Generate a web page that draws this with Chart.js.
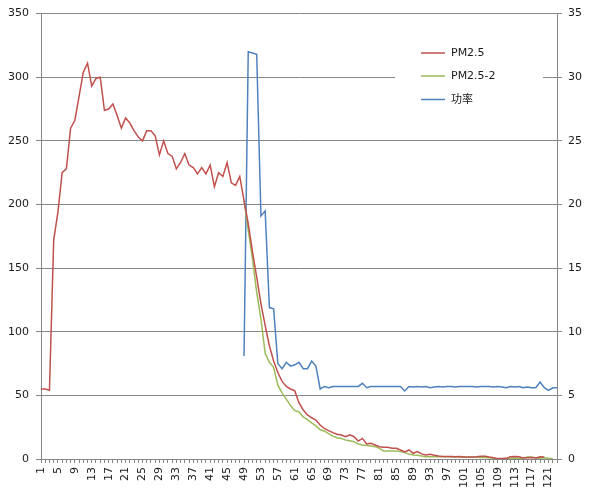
<!DOCTYPE html>
<html>
<head>
<meta charset="utf-8">
<script src="https://cdn.jsdelivr.net/npm/chart.js@4/dist/chart.umd.min.js"></script>
<style>
    html, body { margin: 0; padding: 0; background: #fff; }
    canvas { display: block; }
</style>
</head>
<body>
<canvas id="chart" width="600" height="494"></canvas>
<script>
// 时间序号 1..123
const labels = Array.from({ length: 123 }, (_, i) => String(i + 1));

const pm25 = [
    55, 55, 54, 172, 194, 225, 228, 260, 266, 285,
    304, 311, 293, 299, 300, 274, 275, 279, 270, 260,
    268, 264, 258, 253, 250, 258, 258, 254, 239, 250,
    240, 238, 228, 233, 240, 231, 229, 224, 229, 224,
    231, 214, 225, 222, 233, 217, 215, 222, 203, 185,
    163, 143, 122, 105, 89, 77, 68, 61, 57, 55,
    53.5, 44, 38.5, 34.6, 32.4, 30.6, 26.7, 24, 22.3, 20.7,
    19.4, 18.8, 17.5, 19, 17.5, 14.1, 16.2, 11.8, 12.3, 11,
    9.7, 9.2, 9.2, 8.4, 8.4, 7.1, 5.5, 7.1, 4.5, 5.8,
    4, 3.1, 3.7, 2.9, 2.4, 2, 2, 2, 1.8, 2,
    1.5, 1.5, 1.5, 1.8, 2.2, 2.2, 1.5, 1, 0.3, 0.3,
    0.5, 1.8, 2, 1.8, 0.8, 1, 1.2, 0.8, 1.8, 1.5
];

// PM2.5-2 从第 49 个点开始
const pm25bStart = 49;
const pm25b = [
    203, 180, 157, 131, 110, 83, 76, 72, 58, 52,
    47, 42, 38, 37, 33, 31, 28.4, 26, 23, 22,
    20, 18, 16.7, 16.2, 15, 14.4, 13.6, 11.8, 11, 10.7,
    10.2, 9.7, 8.4, 6.3, 6.3, 6.3, 6.3, 5.8, 5, 4,
    3.1, 2.9, 2.4, 1.8, 1.8, 1.8, 1.8, 1.8, 1.8, 1.6,
    1.6, 1.5, 1.3, 1.3, 1.3, 1.3, 1.2, 1.2, 1, 0.5,
    0, 0, 0, 0.5, 0.8, 0.5, 0.8, 1.5, 1.5, 0.8,
    0.5, 1, 0.5, 0.3
];

// 功率（右轴）从第 49 个点开始
const powerStart = 49;
const power = [
    8.1, 32.0, 31.9, 31.8, 19.1, 19.5, 11.9, 11.8, 7.5, 7.1,
    7.6, 7.3, 7.4, 7.6, 7.1, 7.1, 7.7, 7.3, 5.5, 5.7,
    5.6, 5.7, 5.7, 5.7, 5.7, 5.7, 5.7, 5.7, 5.95, 5.6,
    5.7, 5.7, 5.7, 5.7, 5.7, 5.7, 5.7, 5.7, 5.35, 5.7,
    5.65, 5.7, 5.65, 5.7, 5.6, 5.65, 5.7, 5.65, 5.7, 5.7,
    5.65, 5.7, 5.7, 5.7, 5.7, 5.65, 5.7, 5.7, 5.7, 5.65,
    5.7, 5.65, 5.6, 5.7, 5.65, 5.7, 5.6, 5.65, 5.6, 5.6,
    6.05, 5.6, 5.4, 5.6, 5.6
];

const RED = '#C0504D';
const GREEN = '#9BBB59';
const BLUE = '#4F81BD';
const AXIS = '#868686';
const TEXT = '#1a1a1a';
const FONT = "'DejaVu Sans', 'Noto Sans CJK SC', sans-serif";

function padSeries(values, start) {
    return labels.map((_, k) => {
        const j = k - (start - 1);
        return j >= 0 && j < values.length ? values[j] : null;
    });
}

// Excel 风格图例：白底盖住网格线
const legendBox = {
    id: 'legendBox',
    afterDraw(chart) {
        const ctx = chart.ctx;
        ctx.save();
        ctx.fillStyle = '#fff';
        ctx.fillRect(395, 40, 148, 75);
        const items = [
            { text: 'PM2.5', color: RED, y: 53 },
            { text: 'PM2.5-2', color: GREEN, y: 76 },
            { text: '功率', color: BLUE, y: 99.5 }
        ];
        ctx.font = '11px ' + FONT;
        ctx.textBaseline = 'middle';
        ctx.lineWidth = 1.5;
        items.forEach(it => {
            ctx.strokeStyle = it.color;
            ctx.beginPath();
            ctx.moveTo(421, it.y);
            ctx.lineTo(445, it.y);
            ctx.stroke();
            ctx.fillStyle = TEXT;
            ctx.fillText(it.text, 451, it.y + 0.5);
        });
        ctx.restore();
    }
};

Chart.defaults.font.family = FONT;
Chart.defaults.font.size = 11;
Chart.defaults.color = TEXT;

new Chart(document.getElementById('chart'), {
    type: 'line',
    data: {
        labels: labels,
        datasets: [
            {
                label: 'PM2.5',
                data: pm25,
                borderColor: RED,
                borderWidth: 1.5,
                pointRadius: 0,
                yAxisID: 'y'
            },
            {
                label: 'PM2.5-2',
                data: padSeries(pm25b, pm25bStart),
                borderColor: GREEN,
                borderWidth: 1.5,
                pointRadius: 0,
                yAxisID: 'y'
            },
            {
                label: '功率',
                data: padSeries(power, powerStart),
                borderColor: BLUE,
                borderWidth: 1.5,
                pointRadius: 0,
                yAxisID: 'y1'
            }
        ]
    },
    options: {
        responsive: false,
        animation: false,
        events: [],
        layout: { padding: { top: 13, left: 0, right: 0, bottom: 0 } },
        plugins: {
            legend: { display: false },
            tooltip: { enabled: false }
        },
        scales: {
            x: {
                offset: false,
                afterFit: s => { s.height = 35; },
                grid: {
                    drawOnChartArea: false,
                    drawTicks: true,
                    tickLength: 4,
                    color: AXIS
                },
                border: { color: AXIS, width: 1 },
                ticks: {
                    autoSkip: false,
                    minRotation: 90,
                    maxRotation: 90,
                    padding: 4,
                    callback: (v, i) => (i % 4 === 0 ? labels[i] : '')
                }
            },
            y: {
                position: 'left',
                min: 0,
                max: 350,
                afterFit: s => { s.width = 41; },
                grid: { color: AXIS, tickLength: 5 },
                border: { color: AXIS, width: 1 },
                ticks: { stepSize: 50, padding: 7 }
            },
            y1: {
                position: 'right',
                min: 0,
                max: 35,
                afterFit: s => { s.width = 43; },
                grid: { drawOnChartArea: false, color: AXIS, tickLength: 5 },
                border: { color: AXIS, width: 1 },
                ticks: { stepSize: 5, padding: 6 }
            }
        }
    },
    plugins: [legendBox]
});
</script>
</body>
</html>
